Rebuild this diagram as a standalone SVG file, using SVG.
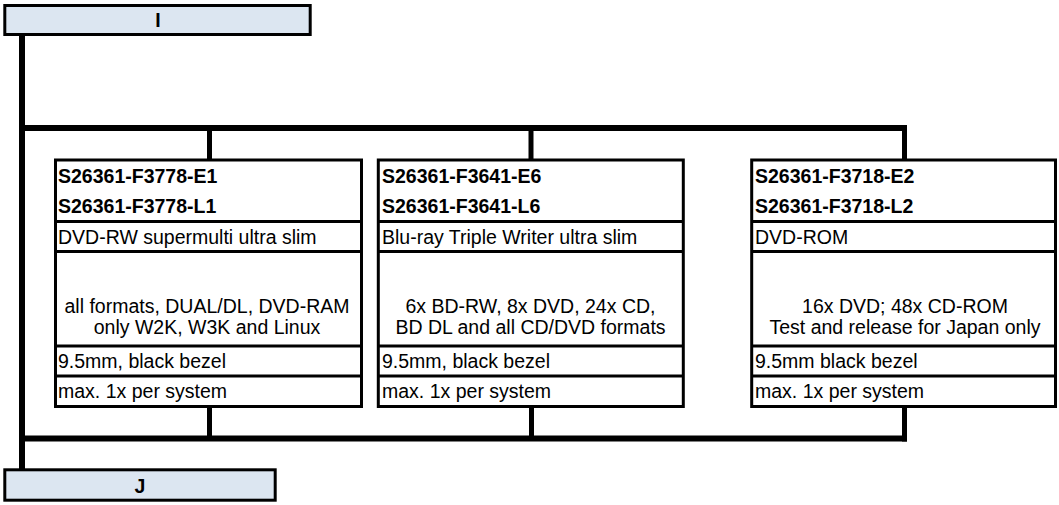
<svg xmlns="http://www.w3.org/2000/svg" width="1059" height="505" viewBox="0 0 1059 505">
<style>
text{font-family:"Liberation Sans",Arial,sans-serif;font-size:19.5px;fill:#000}
.b{font-weight:bold;font-size:19.5px}
.c{text-anchor:middle}
.cell{fill:#fff;stroke:#000;stroke-width:3}
.bar{fill:#dce6f1;stroke:#000;stroke-width:3}
.sep{stroke:#000;stroke-width:3}
.conn{stroke:#000;fill:none;stroke-linecap:butt}
</style>
<g id="connectors">
<line class="conn" x1="22" y1="36" x2="22" y2="471" stroke-width="6"/>
<line class="conn" x1="19" y1="128" x2="907" y2="128" stroke-width="6"/>
<line class="conn" x1="19" y1="438.5" x2="907" y2="438.5" stroke-width="6"/>
<line class="conn" x1="209.5" y1="128" x2="209.5" y2="160" stroke-width="5"/>
<line class="conn" x1="531" y1="128" x2="531" y2="160" stroke-width="5"/>
<line class="conn" x1="904.5" y1="125" x2="904.5" y2="160" stroke-width="5"/>
<line class="conn" x1="209.5" y1="406" x2="209.5" y2="438" stroke-width="5"/>
<line class="conn" x1="531.5" y1="406" x2="531.5" y2="438" stroke-width="5"/>
<line class="conn" x1="904.5" y1="406" x2="904.5" y2="441.5" stroke-width="5"/>
</g>
<g id="nodeI">
<rect class="bar" x="4.8" y="5.5" width="305.4" height="29"/>
<text class="b c" x="158" y="27">I</text>
</g>
<g id="nodeJ">
<rect class="bar" x="4.8" y="469.8" width="270.4" height="30.4"/>
<text class="b c" x="140" y="493">J</text>
</g>
<g id="node1">
<rect class="cell" x="55.5" y="160" width="306" height="246.5"/>
<line class="sep" x1="55.5" y1="221.5" x2="361.5" y2="221.5"/>
<line class="sep" x1="55.5" y1="251.5" x2="361.5" y2="251.5"/>
<line class="sep" x1="55.5" y1="346" x2="361.5" y2="346"/>
<line class="sep" x1="55.5" y1="376" x2="361.5" y2="376"/>
<text class="b" x="58" y="183">S26361-F3778-E1</text>
<text class="b" x="58" y="213">S26361-F3778-L1</text>
<text x="58" y="244">DVD-RW supermulti ultra slim</text>
<text class="c" x="207" y="312.5">all formats, DUAL/DL, DVD-RAM</text>
<text class="c" x="207" y="334">only W2K, W3K and Linux</text>
<text x="58" y="368">9.5mm, black bezel</text>
<text x="58" y="398">max. 1x per system</text>
</g>
<g id="node2">
<rect class="cell" x="378.3" y="160" width="305" height="246.5"/>
<line class="sep" x1="378.3" y1="221.5" x2="683.3" y2="221.5"/>
<line class="sep" x1="378.3" y1="251.5" x2="683.3" y2="251.5"/>
<line class="sep" x1="378.3" y1="346" x2="683.3" y2="346"/>
<line class="sep" x1="378.3" y1="376" x2="683.3" y2="376"/>
<text class="b" x="382" y="183">S26361-F3641-E6</text>
<text class="b" x="382" y="213">S26361-F3641-L6</text>
<text x="382" y="244">Blu-ray Triple Writer ultra slim</text>
<text class="c" x="530.5" y="312.5">6x BD-RW, 8x DVD, 24x CD,</text>
<text class="c" x="530.5" y="334">BD DL and all CD/DVD formats</text>
<text x="382" y="368">9.5mm, black bezel</text>
<text x="382" y="398">max. 1x per system</text>
</g>
<g id="node3">
<rect class="cell" x="751.7" y="160" width="303.8" height="246.5"/>
<line class="sep" x1="751.7" y1="221.5" x2="1055.5" y2="221.5"/>
<line class="sep" x1="751.7" y1="251.5" x2="1055.5" y2="251.5"/>
<line class="sep" x1="751.7" y1="346" x2="1055.5" y2="346"/>
<line class="sep" x1="751.7" y1="376" x2="1055.5" y2="376"/>
<text class="b" x="755" y="183">S26361-F3718-E2</text>
<text class="b" x="755" y="213">S26361-F3718-L2</text>
<text x="755" y="244">DVD-ROM</text>
<text class="c" x="905" y="312.5">16x DVD; 48x CD-ROM</text>
<text class="c" x="905" y="334">Test and release for Japan only</text>
<text x="755" y="368">9.5mm black bezel</text>
<text x="755" y="398">max. 1x per system</text>
</g>
</svg>
